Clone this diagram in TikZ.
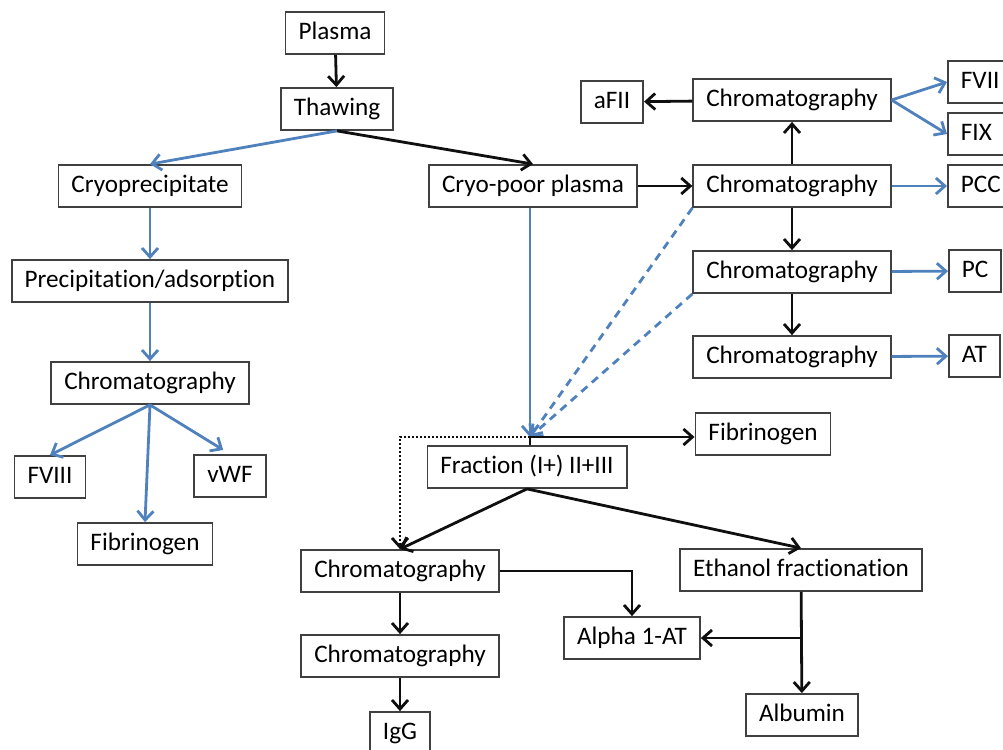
\documentclass[tikz,border=0pt]{standalone}
\usepackage{fontspec}
\setmainfont{Carlito}[Ligatures=NoCommon]
\usepackage{tikz}
\usetikzlibrary{arrows.meta}
\usepackage{xcolor}
\definecolor{ColBlue}{RGB}{79,129,189}
\definecolor{ColLine}{RGB}{15,15,15}
\tikzstyle{BoxNode}=[draw=black!75,line width=.9pt,fill=white,inner xsep=6.5pt,
minimum height=21pt,text height=9pt,text depth=2.8pt,font=\fontsize{12.6}{15}\selectfont]
\tikzstyle{EdgeMain}=[ColLine,line width=1.4pt,-{Straight Barb[length=4.5pt,width=8pt]}]
\tikzstyle{EdgeBlue}=[ColBlue,line width=1.4pt,-{Straight Barb[length=4.5pt,width=8pt]}]
\tikzstyle{EdgeDash}=[EdgeBlue,dash pattern=on 4pt off 3pt]
\tikzstyle{EdgeDot}=[EdgeMain,dash pattern=on 1pt off 1pt]

\begin{document}
\begin{tikzpicture}[x=.5pt,y=-.5pt]
        \useasboundingbox(0,0)rectangle(1003,750);
        % cryoprecipitate side
        \node[BoxNode](plasma)at(335,33){Plasma};
        \node[BoxNode](thaw)at(337,109){Thawing};
        \node[BoxNode](cryo)at(150,186){Cryoprecipitate};
        \node[BoxNode](precip)at(150,281){Precipitation/adsorption};
        \node[BoxNode](chromL)at(150,383){Chromatography};
        \node[BoxNode](fviii)at(50,477){FVIII};
        \node[BoxNode](vwf)at(230,476){vWF};
        \node[BoxNode](fibL)at(145,544){Fibrinogen};
        % cryo-poor plasma side
        \node[BoxNode](cryopoor)at(533,186){Cryo-poor plasma};
        \node[BoxNode](afii)at(612,102){aFII};
        \node[BoxNode](chromA)at(792,100){Chromatography};
        \node[BoxNode,anchor=west](fvii)at(947,82){FVII};
        \node[BoxNode,anchor=west](fix)at(947,134){FIX};
        \node[BoxNode](chromB)at(792,186){Chromatography};
        \node[BoxNode,anchor=west](pcc)at(947,186){PCC};
        \node[BoxNode](chromC)at(792,272){Chromatography};
        \node[BoxNode,anchor=west](pc)at(948,271){PC};
        \node[BoxNode](chromD)at(792,357){Chromatography};
        \node[BoxNode,anchor=west](atb)at(948,356){AT};
        \node[BoxNode](fibR)at(763,434){Fibrinogen};
        \node[BoxNode](frac)at(527,467){Fraction (I+) II+III};
        \node[BoxNode](chromM)at(400,571){Chromatography};
        \node[BoxNode](chromN)at(400,656){Chromatography};
        \node[BoxNode](igg)at(400,733){IgG};
        \node[BoxNode](ethanol)at(801,570){Ethanol fractionation};
        \node[BoxNode](alpha)at(632,638){Alpha 1-AT};
        \node[BoxNode](albumin)at(802,715){Albumin};
        \coordinate(junc)at(530,437);
        \coordinate(split)at(ethanol.south|-alpha.east);
        % connectors
        \draw[EdgeMain](plasma)--(thaw);
        \draw[EdgeMain](thaw.south)--(cryopoor.north);
        \draw[EdgeBlue](thaw.south)--(cryo.north);
        \draw[EdgeBlue](cryo)--(precip);
        \draw[EdgeBlue](precip)--(chromL);
        \draw[EdgeBlue](chromL.south)--(fviii.north);
        \draw[EdgeBlue](chromL.south)--(fibL.north);
        \draw[EdgeBlue,shorten >=4pt](chromL.south)--(vwf.north);
        \draw[EdgeMain](cryopoor)--(chromB);
        \draw[EdgeMain](chromB)--(chromA);
        \draw[EdgeMain](chromA)--(afii);
        \draw[EdgeBlue](chromA.east)--(fvii.west);
        \draw[EdgeBlue](chromA.east)--(fix.west);
        \draw[EdgeBlue](chromB)--(pcc);
        \draw[EdgeMain](chromB)--(chromC);
        \draw[EdgeMain](chromC)--(chromD);
        \draw[EdgeBlue](chromC)--(pc);
        \draw[EdgeBlue](chromD)--(atb);
        \draw[EdgeBlue](cryopoor.south-|junc)--(junc);
        \draw[EdgeDash](chromB.south west)--(junc);
        \draw[EdgeDash](chromC.south west)--(junc);
        \draw[ColLine,line width=1.4pt](frac.north-|junc)--(junc);
        \draw[EdgeMain](junc)--(junc-|fibR.west);
        \draw[EdgeDot](junc)-|(chromM.north);
        \draw[EdgeMain](frac.south)--(chromM.north);
        \draw[EdgeMain](frac.south)--(ethanol.north);
        \draw[EdgeMain](chromM.east)-|(alpha.north);
        \draw[EdgeMain](chromM)--(chromN);
        \draw[EdgeMain](chromN)--(igg);
        \draw[EdgeMain](ethanol)--(albumin);
        \draw[EdgeMain](split)--(alpha.east);
    \end{tikzpicture}
\end{document}
